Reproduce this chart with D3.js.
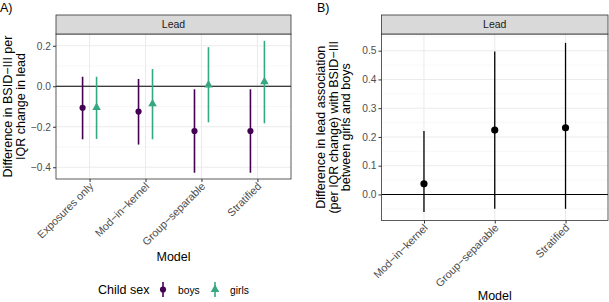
<!DOCTYPE html>
<html lang="en">
<head>
<meta charset="utf-8">
<script src="https://cdn.jsdelivr.net/npm/d3@7"></script>
<style>
  body { margin: 0; background: #fff; }
  text { font-family: "Liberation Sans", Arial, sans-serif; }
</style>
</head>
<body>
<script>
// panel A data: estimate per model, by child sex
const modelsA = ["Exposures only", "Mod\u2212in\u2212kernel", "Group\u2212separable", "Stratified"];
const boysEst = [-0.106, -0.125, -0.221, -0.221];
const boysLo = [-0.262, -0.288, -0.427, -0.427];
const boysHi = [0.047, 0.036, -0.015, -0.015];
const girlsEst = [-0.105, -0.087, 0.006, 0.022];
const girlsLo = [-0.260, -0.262, -0.178, -0.183];
const girlsHi = [0.047, 0.085, 0.193, 0.224];
const ticksA = [-0.4, -0.2, 0.0, 0.2];

// panel B data: girls minus boys difference
const modelsB = ["Mod\u2212in\u2212kernel", "Group\u2212separable", "Stratified"];
const diffEst = [0.037, 0.224, 0.232];
const diffLo = [-0.061, -0.050, -0.050];
const diffHi = [0.221, 0.497, 0.527];
const ticksB = [0.0, 0.1, 0.2, 0.3, 0.4, 0.5];

const boysCol = "#440154", girlsCol = "#35A883";

const svg = d3.select("body").append("svg").attr("width", 609).attr("height", 302);

function panel(o) {
  const g = svg.append("g");
  const x = d3.scalePoint().domain(o.cats).range([o.x0, o.x1]).padding(0.6);
  const y = d3.scaleLinear().domain(o.ydom).range([o.y1, o.y0]);

  // minor grid
  const minors = [];
  for (let i = 0; i < o.ticks.length - 1; i++) minors.push((o.ticks[i] + o.ticks[i + 1]) / 2);
  minors.push(o.ticks[0] - (o.ticks[1] - o.ticks[0]) / 2);
  minors.push(o.ticks[o.ticks.length - 1] + (o.ticks[1] - o.ticks[0]) / 2);
  g.selectAll(".mn").data(minors.filter(v => v > o.ydom[0] && v < o.ydom[1])).enter()
    .append("line").attr("x1", o.x0).attr("x2", o.x1)
    .attr("y1", d => y(d)).attr("y2", d => y(d))
    .attr("stroke", "#f2f2f2").attr("stroke-width", 0.6);
  g.selectAll(".mj").data(o.ticks).enter()
    .append("line").attr("x1", o.x0).attr("x2", o.x1)
    .attr("y1", d => y(d)).attr("y2", d => y(d))
    .attr("stroke", "#ebebeb").attr("stroke-width", 1.1);
  g.selectAll(".mx").data(o.cats).enter()
    .append("line").attr("y1", o.y0).attr("y2", o.y1)
    .attr("x1", d => x(d)).attr("x2", d => x(d))
    .attr("stroke", "#ebebeb").attr("stroke-width", 1.1);

  // zero line
  g.append("line").attr("x1", o.x0).attr("x2", o.x1)
    .attr("y1", y(0)).attr("y2", y(0)).attr("stroke", "#000").attr("stroke-width", 1.1);

  o.draw(g, x, y);

  // border + strip
  g.append("rect").attr("x", o.x0).attr("y", o.y0).attr("width", o.x1 - o.x0)
    .attr("height", o.y1 - o.y0).attr("fill", "none").attr("stroke", "#333").attr("stroke-width", 0.8);
  g.append("rect").attr("x", o.x0).attr("y", 15).attr("width", o.x1 - o.x0)
    .attr("height", o.y0 - 15).attr("fill", "#d9d9d9").attr("stroke", "#333").attr("stroke-width", 0.8);
  g.append("text").attr("x", (o.x0 + o.x1) / 2).attr("y", (15 + o.y0) / 2 + 3.8)
    .attr("text-anchor", "middle").attr("font-size", 10.5).attr("fill", "#1a1a1a").text("Lead");

  // y axis
  const ya = g.append("g").attr("transform", `translate(${o.x0},0)`)
    .call(d3.axisLeft(y).tickValues(o.ticks).tickSize(3).tickPadding(2).tickFormat(d3.format(".1f")));
  ya.select(".domain").remove();
  ya.selectAll("line").attr("stroke", "#333");
  ya.selectAll("text").attr("fill", "#4d4d4d").attr("font-size", 10.2)
    .text(d => d3.format(".1f")(d).replace("-", "\u2212"));

  // x axis
  const xa = g.append("g").attr("transform", `translate(0,${o.y1})`)
    .call(d3.axisBottom(x).tickSize(3).tickPadding(2));
  xa.select(".domain").remove();
  xa.selectAll("line").attr("stroke", "#333");
  xa.selectAll("text").attr("fill", "#4d4d4d").attr("font-size", 10.8)
    .attr("text-anchor", "end").attr("dy", null).attr("y", 0)
    .attr("transform", "translate(4,8) rotate(-45)");

  g.append("text").attr("x", (o.x0 + o.x1) / 2).attr("y", o.titleY)
    .attr("text-anchor", "middle").attr("font-size", 12.5).text("Model");

  const ty = g.append("text").attr("transform", `translate(${o.ytx},${(o.y0 + o.y1) / 2}) rotate(-90)`)
    .attr("text-anchor", "middle").attr("font-size", 12.5);
  o.ytitle.forEach((s, i) => ty.append("tspan").attr("x", 0)
    .attr("dy", i === 0 ? 0 : 12.5).text(s));
}

panel({
  cats: modelsA, x0: 56, x1: 291, y0: 34, y1: 179, ydom: [-0.458, 0.258], ticks: ticksA,
  titleY: 261, ytx: 12, ytitle: ["Difference in BSID\u2212III per", "IQR change in lead"],
  draw: (g, x, y) => {
    const bw = x.step() * 0.125;
    const series = [
      {est: boysEst, lo: boysLo, hi: boysHi, col: boysCol, dx: -bw, shape: d3.symbolCircle, size: 30},
      {est: girlsEst, lo: girlsLo, hi: girlsHi, col: girlsCol, dx: bw, shape: d3.symbolTriangle, size: 32}
    ];
    series.forEach(s => {
      g.selectAll(null).data(modelsA).enter().append("line")
        .attr("x1", (d, i) => x(d) + s.dx).attr("x2", (d, i) => x(d) + s.dx)
        .attr("y1", (d, i) => y(s.lo[i])).attr("y2", (d, i) => y(s.hi[i]))
        .attr("stroke", s.col).attr("stroke-width", 1.6);
      g.selectAll(null).data(modelsA).enter().append("path")
        .attr("d", d3.symbol().type(s.shape).size(s.size))
        .attr("transform", (d, i) => `translate(${x(d) + s.dx},${y(s.est[i])})`)
        .attr("fill", s.col);
    });
  }
});

panel({
  cats: modelsB, x0: 381.5, x1: 608, y0: 34, y1: 220.5, ydom: [-0.0906, 0.558], ticks: ticksB,
  titleY: 300, ytx: 325, ytitle: ["Difference in lead association", "(per IQR change) with BSID\u2212III", "between girls and boys"],
  draw: (g, x, y) => {
    g.selectAll(null).data(modelsB).enter().append("line")
      .attr("x1", d => x(d)).attr("x2", d => x(d))
      .attr("y1", (d, i) => y(diffLo[i])).attr("y2", (d, i) => y(diffHi[i]))
      .attr("stroke", "#000").attr("stroke-width", 1.3);
    g.selectAll(null).data(modelsB).enter().append("circle")
      .attr("cx", d => x(d)).attr("cy", (d, i) => y(diffEst[i])).attr("r", 3.6).attr("fill", "#000");
  }
});

// panel tags
svg.append("text").attr("x", 0).attr("y", 12).attr("font-size", 12.5).text("A)");
svg.append("text").attr("x", 317).attr("y", 12).attr("font-size", 12.5).text("B)");

// legend
const leg = svg.append("g");
leg.append("text").attr("x", 98).attr("y", 294).attr("font-size", 12.5).text("Child sex");
const keys = [
  {lab: "boys", col: boysCol, shape: d3.symbolCircle, size: 30, x: 163},
  {lab: "girls", col: girlsCol, shape: d3.symbolTriangle, size: 32, x: 215}
];
keys.forEach(k => {
  leg.append("line").attr("x1", k.x).attr("x2", k.x).attr("y1", 282).attr("y2", 297)
    .attr("stroke", k.col).attr("stroke-width", 1.6);
  leg.append("path").attr("d", d3.symbol().type(k.shape).size(k.size))
    .attr("transform", `translate(${k.x},289.5)`).attr("fill", k.col);
  leg.append("text").attr("x", k.x + 15).attr("y", 293.5).attr("font-size", 10.3).text(k.lab);
});
</script>
</body>
</html>
